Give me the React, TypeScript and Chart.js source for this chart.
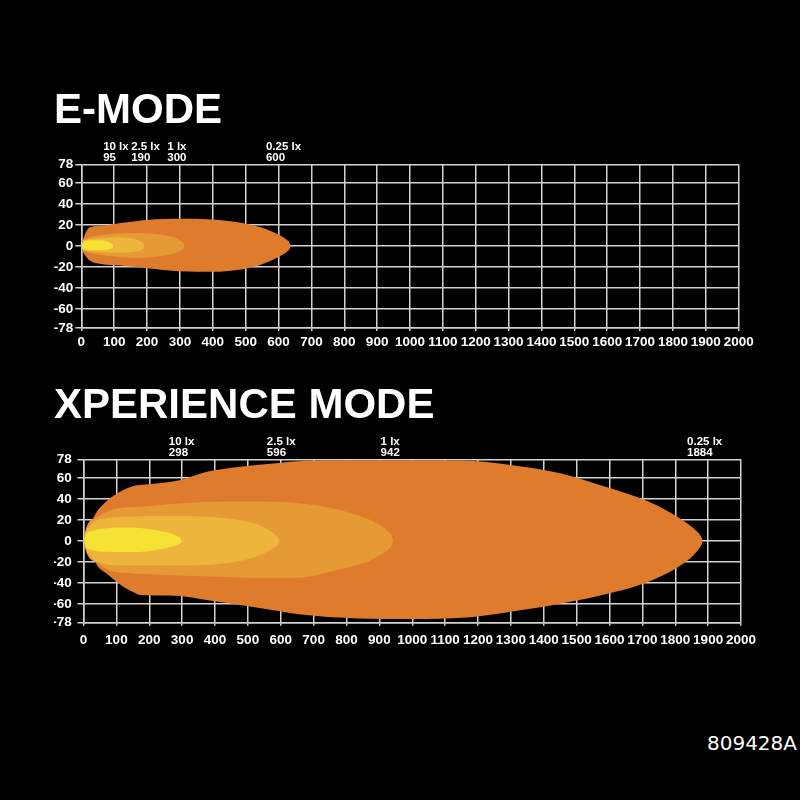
import React, { useEffect, useRef } from 'react';
import { Chart, registerables } from 'chart.js';

Chart.register(...registerables);

// ---------- data ----------
const Y_TICKS = [78, 60, 40, 20, 0, -20, -40, -60, -78];
const X_MIN = 0;
const X_MAX = 2000;
const X_STEP = 100;

const LUX_LABELS = ['10 lx', '2.5 lx', '1 lx', '0.25 lx'];
const E_DISTANCES = [95, 190, 300, 600];
const XP_DISTANCES = [298, 596, 942, 1884];

const LUX_COLORS = ['#F6E234', '#EDB53C', '#E69A35', '#DE7B2C'];

// E-MODE isolux contours (distance m, upper / lower spread m)
const E10_X = [1, 4, 12, 30, 60, 82, 91, 95, 97];
const E10_UP = [0, 3.5, 4.8, 5.7, 5.7, 4.3, 2.8, 1.5, 0];
const E10_LO = [0, -3, -3.5, -3.8, -3.8, -3.2, -2.2, -1.2, 0];

const E25_X = [1, 5, 15, 50, 110, 150, 175, 186, 190, 192];
const E25_UP = [0, 4, 6, 7.5, 8.6, 7.8, 5.5, 3.5, 2, 0];
const E25_LO = [0, -3, -4.5, -5.5, -6.3, -6, -4.5, -3, -1.5, 0];

const E1_X = [1, 6, 20, 60, 150, 230, 275, 300, 310, 314];
const E1_UP = [0, 5, 8, 10.5, 12.5, 11.5, 9, 5.5, 3, 0];
const E1_LO = [0, -4, -6, -8.5, -11, -10, -7.5, -4.5, -2.5, 0];

const E025_X = [0, 6, 15, 27, 60, 120, 200, 300, 400, 480, 540, 580, 608, 625, 633, 637];
const E025_UP = [0, 7, 14, 18, 19.5, 22, 25, 26, 25.5, 22.5, 18.5, 14, 9.6, 6, 3.5, 0];
const E025_LO = [0, -6, -10, -14, -17, -18.5, -21, -24, -24.5, -22.5, -18.5, -13.5, -9, -5.5, -3, 0];

// XPERIENCE MODE isolux contours
const X10_X = [2, 6, 22, 63, 134, 205, 255, 282, 293, 297, 299];
const X10_UP = [0, 6, 9.4, 12, 12.9, 11.3, 8, 5, 3, 1.5, 0];
const X10_LO = [0, -5, -8.4, -10.3, -10.6, -9.5, -6.5, -4, -2.5, -1.2, 0];

const X25_X = [0, 6, 20, 43, 134, 286, 438, 519, 560, 582, 591, 595];
const X25_UP = [0, 8, 15, 20, 23.2, 23.9, 21.6, 17, 11, 6.5, 3.5, 0];
const X25_LO = [0, -7, -14, -20, -23.5, -23.5, -21, -15.5, -10, -6, -3, 0];

const X1_X = [0, 10, 43, 83, 184, 387, 500, 658, 760, 861, 905, 928, 938, 942];
const X1_UP = [0, 14, 23, 29.7, 33, 37.5, 37.7, 36, 31, 21.6, 14.5, 8.5, 4.5, 0];
const X1_LO = [0, -12, -21, -28.4, -31.6, -34, -35, -35, -28.4, -20, -13, -8, -4, 0];

const X025_X = [0, 10, 30, 43, 70, 121, 152, 172, 223, 293, 375, 476, 577, 679, 831, 1000, 1165, 1300, 1450, 1600, 1700, 1780, 1840, 1868, 1879, 1884];
const X025_UP = [0, 13, 22, 29, 38, 48.7, 52.6, 53.5, 55, 58, 66, 71, 74, 76.7, 77, 77, 76.5, 72.6, 64.7, 50.5, 40, 28, 16, 8.5, 4, 0];
const X025_LO = [0, -8, -17, -24, -31, -43.6, -49, -51.6, -52, -52.5, -56.4, -61, -66, -70.7, -73.9, -74.5, -73, -67.5, -60, -50, -41, -30, -18, -9, -4, 0];

// ---------- styling ----------
const GRID = '#D2D2D2';
const TICK_FONT_FAMILY = '"Liberation Sans", Arial, sans-serif';
const TEXT = '#FFFFFF';

function contour(xs: number[], up: number[], lo: number[], color: string, name: string) {
  const common = {
    backgroundColor: color,
    borderColor: 'rgba(0,0,0,0)',
    borderWidth: 0,
    pointRadius: 0,
    pointHoverRadius: 0,
    cubicInterpolationMode: 'monotone' as const,
  };
  return [
    { ...common, label: name + ' upper', data: xs.map((x, i) => ({ x, y: up[i] })), fill: false },
    { ...common, label: name + ' lower', data: xs.map((x, i) => ({ x, y: lo[i] })), fill: '-1' },
  ];
}

const luxPlugin = {
  id: 'luxLabels',
  afterDraw(chart: any, _args: any, opts: any) {
    const { ctx, chartArea } = chart;
    const xs = chart.scales.x;
    ctx.save();
    ctx.fillStyle = TEXT;
    ctx.font = `bold 11.5px ${TICK_FONT_FAMILY}`;
    ctx.textAlign = 'left';
    ctx.textBaseline = 'alphabetic';
    (opts.distances as number[]).forEach((d, i) => {
      const px = xs.getPixelForValue(d);
      const num = String(d);
      const w = ctx.measureText(num).width;
      const left = px - w / 2 - 3;
      ctx.fillText(opts.labels[i], left, chartArea.top - 14.3);
      ctx.fillText(num, left, chartArea.top - 3.5);
    });
    ctx.restore();
  },
};

interface Cfg {
  title: string;
  datasets: any[];
  distances: number[];
  titleTop: number;
  titleBottom: number;
  yWidth: number;
  padRight: number;
  xAxisHeight: number;
  xTickPad: number;
  yTickPad: number;
}

const PAD_LEFT = 54;
const TITLE_SIZE = 42;
const TICK_SIZE = 13.5;

function makeConfig(cfg: Cfg): any {
  return {
    type: 'line',
    data: { datasets: cfg.datasets },
    plugins: [luxPlugin],
    options: {
      responsive: false,
      animation: false,
      events: [],
      layout: { padding: { left: PAD_LEFT, right: cfg.padRight, top: 0, bottom: 0 } },
      plugins: {
        legend: { display: false },
        tooltip: { enabled: false },
        title: {
          display: true,
          text: cfg.title,
          align: 'start',
          color: TEXT,
          font: { family: TICK_FONT_FAMILY, size: TITLE_SIZE, weight: 'bold', lineHeight: 1 },
          padding: { top: cfg.titleTop, bottom: cfg.titleBottom },
        },
        luxLabels: { labels: LUX_LABELS, distances: cfg.distances },
      },
      scales: {
        x: {
          type: 'linear',
          min: X_MIN,
          max: X_MAX,
          z: 1,
          ticks: {
            stepSize: X_STEP,
            autoSkip: false,
            maxRotation: 0,
            minRotation: 0,
            color: TEXT,
            padding: cfg.xTickPad,
            font: { family: TICK_FONT_FAMILY, size: TICK_SIZE, weight: 'bold' },
            callback: (v: any) => String(v),
          },
          grid: { color: GRID, lineWidth: 1.5, tickLength: 3 },
          border: { color: GRID, width: 1.5 },
          afterFit: (s: any) => { s.height = cfg.xAxisHeight; },
        },
        y: {
          type: 'linear',
          min: -78,
          max: 78,
          z: 1,
          afterBuildTicks: (s: any) => { s.ticks = Y_TICKS.map((v) => ({ value: v })); },
          ticks: {
            color: TEXT,
            padding: cfg.yTickPad,
            font: { family: TICK_FONT_FAMILY, size: TICK_SIZE, weight: 'bold' },
            callback: (v: any) => String(v),
          },
          grid: { color: GRID, lineWidth: 1.5, tickLength: 6 },
          border: { color: GRID, width: 1.5 },
          afterFit: (s: any) => { s.width = cfg.yWidth; },
        },
      },
    },
  };
}

function BeamChart({ cfg, top, height }: { cfg: Cfg; top: number; height: number }) {
  const ref = useRef<HTMLCanvasElement>(null);
  useEffect(() => {
    if (!ref.current) return;
    const chart = new Chart(ref.current, makeConfig(cfg));
    return () => chart.destroy();
  }, []);
  return (
    <canvas
      ref={ref}
      width={800}
      height={height}
      style={{ position: 'absolute', left: 0, top, width: 800, height }}
    />
  );
}

const E_DATASETS = [
  ...contour(E10_X, E10_UP, E10_LO, LUX_COLORS[0], '10 lx'),
  ...contour(E25_X, E25_UP, E25_LO, LUX_COLORS[1], '2.5 lx'),
  ...contour(E1_X, E1_UP, E1_LO, LUX_COLORS[2], '1 lx'),
  ...contour(E025_X, E025_UP, E025_LO, LUX_COLORS[3], '0.25 lx'),
];

const XP_DATASETS = [
  ...contour(X10_X, X10_UP, X10_LO, LUX_COLORS[0], '10 lx'),
  ...contour(X25_X, X25_UP, X25_LO, LUX_COLORS[1], '2.5 lx'),
  ...contour(X1_X, X1_UP, X1_LO, LUX_COLORS[2], '1 lx'),
  ...contour(X025_X, X025_UP, X025_LO, LUX_COLORS[3], '0.25 lx'),
];

const E_CFG: Cfg = {
  title: 'E-MODE',
  datasets: E_DATASETS,
  distances: E_DISTANCES,
  titleTop: 10,
  titleBottom: 32.3,
  yWidth: 81.3 - PAD_LEFT,
  padRight: 61.3,
  xAxisHeight: 25,
  xTickPad: 3.2,
  yTickPad: 2,
};

const XP_CFG: Cfg = {
  title: 'XPERIENCE MODE',
  datasets: XP_DATASETS,
  distances: XP_DISTANCES,
  titleTop: 10.3,
  titleBottom: 32,
  yWidth: 83.5 - PAD_LEFT,
  padRight: 59,
  xAxisHeight: 25.3,
  xTickPad: 6.2,
  yTickPad: 5.8,
};

export default function App() {
  return (
    <div style={{ position: 'fixed', left: 0, top: 0, width: 800, height: 800, background: '#000', overflow: 'hidden' }}>
      <BeamChart cfg={E_CFG} top={80} height={273} />
      <BeamChart cfg={XP_CFG} top={375} height={273} />
      <div
        style={{
          position: 'absolute',
          right: 3,
          top: 733,
          color: '#fff',
          fontFamily: '"DejaVu Sans", sans-serif',
          fontSize: 20,
          lineHeight: '20px',
        }}
      >
        809428A
      </div>
    </div>
  );
}
